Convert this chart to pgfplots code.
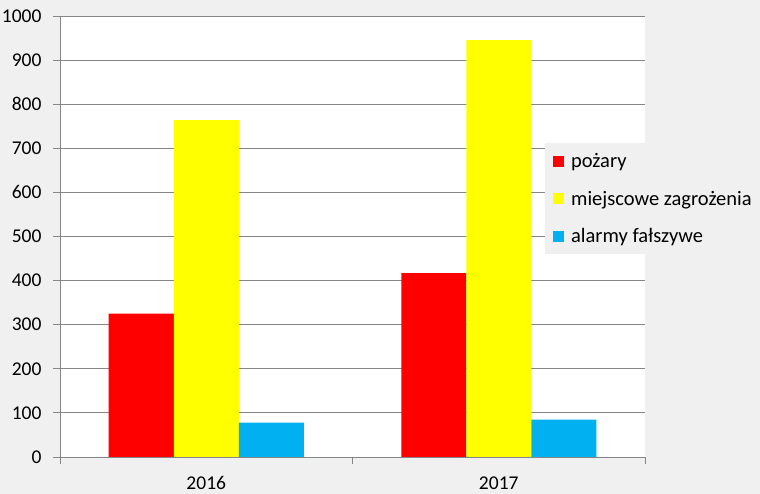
\documentclass[border=0pt]{standalone}
\usepackage{fontspec}
\setmainfont{Carlito}
\usepackage{pgfplots}
\pgfplotsset{compat=1.18}
\definecolor{bg}{RGB}{240,240,240}
\definecolor{gridc}{RGB}{134,134,134}
\definecolor{cred}{RGB}{255,0,0}
\definecolor{cyel}{RGB}{255,255,0}
\definecolor{cblue}{RGB}{0,176,240}

\begin{document}
\begin{tikzpicture}
  \fill[bg] (-60pt,-37pt) rectangle (700pt,457pt);
  \useasboundingbox (-60pt,-37pt) rectangle (700pt,457pt);
  \begin{axis}[
      at={(0pt,0pt)}, anchor=south west,
      scale only axis, width=585pt, height=441pt,
      axis background/.style={fill=white},
      ybar=0pt, bar width=65pt,
      xmin=-0.5, xmax=1.5, ymin=0, ymax=1000,
      ytick={0,100,...,1000},
      xtick={-0.5,0.5,1.5}, xticklabels={},
      extra x ticks={0,1}, extra x tick labels={2016,2017},
      extra x tick style={major tick length=0pt, grid=none},
      axis x line*=bottom, axis y line*=left,
      axis line style={-, draw=gridc, line width=0.8pt},
      tick style={draw=gridc, line width=0.8pt},
      tick align=outside, major tick length=7pt,
      ymajorgrids, grid style={draw=gridc, line width=0.8pt},
      /pgf/number format/assume math mode=true,
      /pgf/number format/1000 sep={},
      tick label style={font=\fontsize{19.5}{21}\selectfont, text=black},
      yticklabel style={xshift=-8pt},
      xticklabel style={yshift=-16pt},
      legend style={at={(0.829,0.712)}, anchor=north west, fill=bg, draw=none,
        font=\fontsize{20.5}{22}\selectfont, inner xsep=8pt, inner ysep=8pt,
        row sep=18pt, legend cell align=left,
        nodes={inner xsep=3pt}},
      legend image code/.code={
        \fill[#1] (2pt,-5.5pt) rectangle (13pt,5.5pt);
        \path (17pt,0pt);},
    ]
    \addplot[fill=cred, draw=none] coordinates {(0,325) (1,417)};
    \addplot[fill=cyel, draw=none] coordinates {(0,764) (1,945)};
    \addplot[fill=cblue, draw=none] coordinates {(0,78) (1,85)};
    \legend{pożary, miejscowe zagrożenia, alarmy fałszywe}
  \end{axis}
\end{tikzpicture}
\end{document}
